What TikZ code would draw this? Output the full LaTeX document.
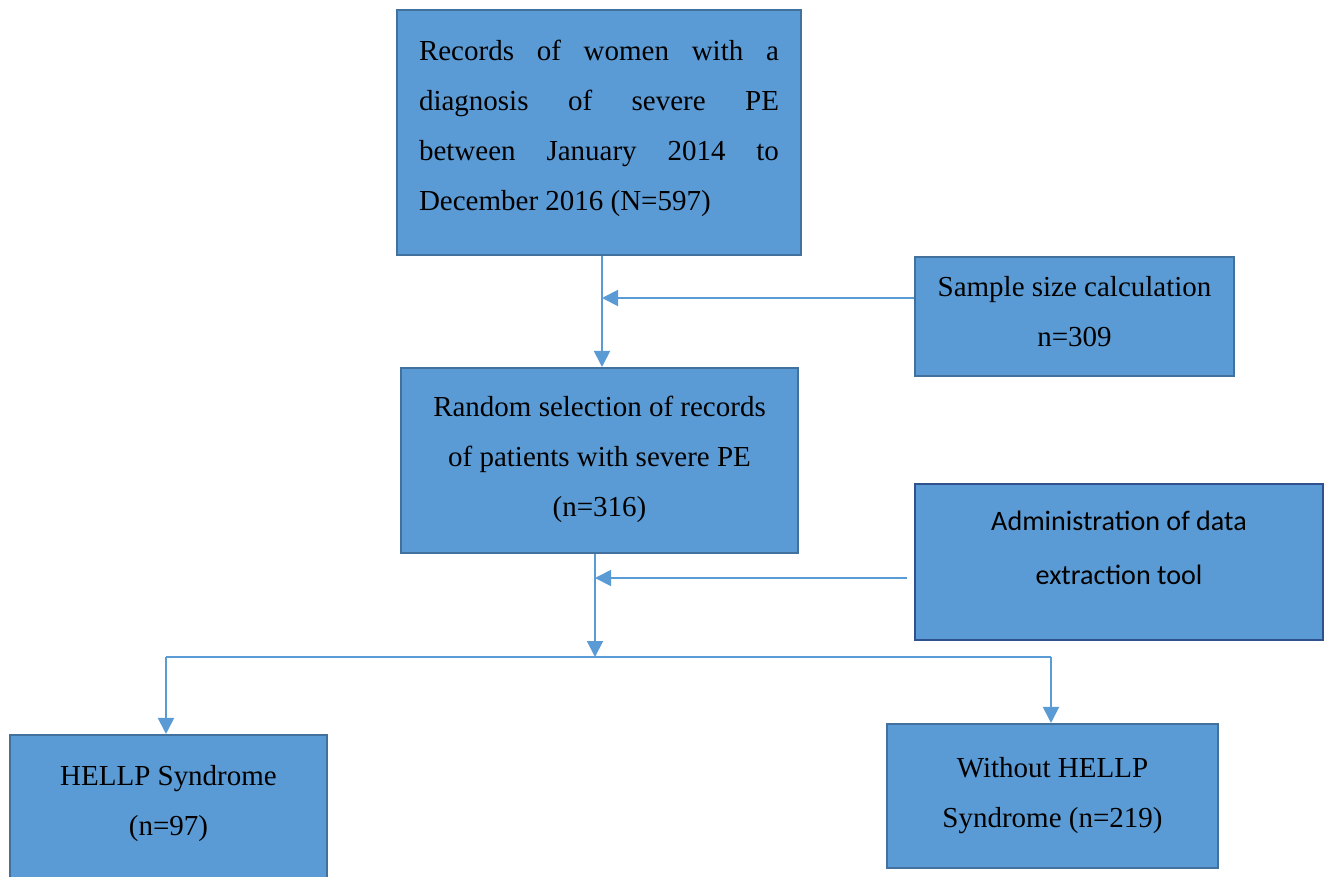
\documentclass[tikz,border=0pt]{standalone}
\usepackage{fontspec}
\setmainfont{Liberation Serif}
\newfontfamily\calibrifont{Carlito}
\usepackage{xcolor}
\usepackage{tikz}
\usetikzlibrary{positioning, arrows.meta, calc}
\definecolor{BoxBlue}{RGB}{91,155,213}
\definecolor{BoxEdge}{RGB}{65,113,156}
\definecolor{DarkEdge}{RGB}{47,82,143}
\definecolor{LineBlue}{RGB}{91,155,213}
\tikzset{
  flowbox/.style={draw=BoxEdge, line width=1.2pt, fill=BoxBlue, inner sep=0pt,
    align=center, font=\fontsize{16.5}{28.5}\selectfont},
  sidebox/.style={flowbox, draw=DarkEdge, line width=1.5pt},
  flowarrow/.style={-{Triangle[length=0.32cm, width=0.32cm]}, line width=1.1pt, LineBlue},
  flowline/.style={line width=0.8pt, LineBlue},
}
\begin{document}
\begin{tikzpicture}[x=0.02cm, y=-0.02cm]
  \useasboundingbox (0,0) rectangle (1325,876);
  % boxes
  \node[flowbox, minimum width=8.08cm, minimum height=4.9cm] (records) at (599,132.5) {};
  \node[text width=7.2cm, align=justify, inner sep=0pt, font=\fontsize{16.5}{28.5}\selectfont,
    anchor=north] (recordstext) at (599,40)
    {\hyphenpenalty=10000 Records of women with a\linebreak diagnosis of severe PE\linebreak
     between January 2014 to\linebreak December 2016 (N=597)};
  \node[flowbox, minimum width=6.38cm, minimum height=2.38cm] (sample) at (1074.5,316.5)
    {Sample size calculation\\n=309\\[-0.8cm]};
  \node[flowbox, minimum width=7.94cm, minimum height=3.7cm] (random) at (599.5,460.5)
    {Random selection of records\\of patients with severe PE\\(n=316)\\[-0.84cm]};
  \node[sidebox, minimum width=8.16cm, minimum height=3.12cm,
    font=\calibrifont\fontsize{16}{30.5}\selectfont] (admin) at (1119,562)
    {Administration of data\\extraction tool\\[-0.5cm]};
  \node[flowbox, minimum width=6.34cm, minimum height=3.0cm, text depth=0.4cm] (hellp) at (168.5,810)
    {HELLP Syndrome\\(n=97)};
  \node[flowbox, minimum width=6.62cm, minimum height=2.88cm] (nohellp) at (1052.5,796)
    {Without HELLP\\Syndrome (n=219)};
  % junctions
  \coordinate (j1) at (602,298);
  \coordinate (j2) at (595,578);
  \coordinate (split) at (595,657);
  \coordinate (sl) at (166,657);
  \coordinate (sr) at (1051,657);
  % connectors
  \draw[flowarrow] (records.south -| j1) -- (random.north -| j1);
  \draw[flowarrow] (sample.west |- j1) -- (j1);
  \draw[flowarrow] (random.south -| j2) -- (split);
  \draw[flowarrow] ([xshift=-0.14cm]admin.west |- j2) -- (j2);
  \draw[flowline] (sl) -- (sr);
  \draw[flowarrow] (sl) -- (hellp.north -| sl);
  \draw[flowarrow] (sr) -- (nohellp.north -| sr);
\end{tikzpicture}
\end{document}
